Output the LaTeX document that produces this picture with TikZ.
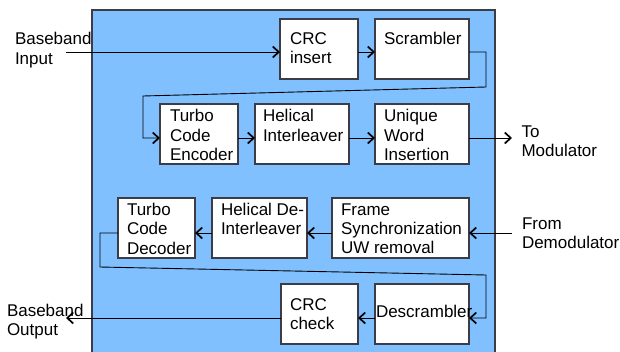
\documentclass[tikz,border=0pt]{standalone}
\usepackage{fontspec}
\setmainfont{Liberation Sans}
\usetikzlibrary{arrows.meta}
\definecolor{panelblue}{RGB}{128,192,255}
\definecolor{edgegray}{RGB}{60,60,70}
\begin{document}
\begin{tikzpicture}[x=1pt,y=-1pt,
  every node/.style={inner sep=0pt,outer sep=0pt},
  blockbox/.style={draw=edgegray,line width=1.2pt,fill=white,anchor=north west,minimum width=#1,minimum height=60pt},
  blockbox/.default=94pt,
  lbl/.style={anchor=north west,align=left,font=\fontsize{17}{19.3}\selectfont},
  flow/.style={draw=black,line width=0.9pt,-{Straight Barb[length=6pt,width=11pt,line width=1.7pt]}},
  plain/.style={draw=black,line width=0.9pt}]
\useasboundingbox (0,0) rectangle (620,351);
% panel
\path[fill=panelblue,draw=edgegray,line width=1.2pt] (92,10) -- (495,10) -- (495,360) -- (92,360) -- cycle;
% boxes
\node[blockbox=78pt] (crc) at (280,19) {};
\node[blockbox] (scr) at (375,19) {};
\node[blockbox=78pt] (enc) at (160,104) {};
\node[blockbox] (il) at (255,104) {};
\node[blockbox] (uw) at (375,104) {};
\node[blockbox=77pt] (dec) at (118,198) {};
\node[blockbox=95pt] (dil) at (212,198) {};
\node[blockbox=137pt] (fs) at (332,198) {};
\node[blockbox=77pt] (crcc) at (281,284) {};
\node[blockbox] (dscr) at (375,284) {};
% box texts
\node[lbl] (tcrc) at (290,32.6) {CRC\\insert};
\node[lbl] (tscr) at (384,32.6) {Scrambler};
\node[lbl] (tenc) at (170,109.6) {Turbo\\Code\\Encoder};
\node[lbl] (til) at (263,109.6) {Helical\\Interleaver};
\node[lbl] (tuw) at (384,109.6) {Unique\\Word\\Insertion};
\node[lbl] (tdec) at (127,203.3) {Turbo\\Code\\Decoder};
\node[lbl] (tdil) at (221,203.3) {Helical De-\\Interleaver};
\node[lbl] (tfs) at (341,203.3) {Frame\\Synchronization\\UW removal};
\node[lbl] (tcrcc) at (290,298.3) {CRC\\check};
\node[lbl] (tdscr) at (376,305.3) {Descrambler};
% outside labels
\node[lbl] (bin) at (15,32.6) {Baseband\\Input};
\node[lbl] (bout) at (7,304.3) {Baseband\\Output};
\node[lbl] (tomod) at (521.5,125.9) {To\\Modulator};
\node[lbl] (fromd) at (522,217.6) {From\\Demodulator};
% coordinates
\coordinate (inS) at (66,52);
\coordinate (r1) at (486,52);
\coordinate (r2) at (486,87);
\coordinate (r3) at (143,96);
\coordinate (r4) at (143,138);
\coordinate (outM) at (512,138);
\coordinate (inD) at (512,233);
\coordinate (d1) at (100,233);
\coordinate (d2) at (100,267);
\coordinate (d3) at (486,275);
\coordinate (d4) at (486,318);
\coordinate (outB) at (66,318);
% connectors
\draw[flow] (inS) -- (inS -| crc.west);
\draw[flow] (crc.east |- inS) -- (scr.west |- inS);
\draw[flow] (scr.east |- r1) -- (r1) -- (r2) -- (r3) -- (r4) -- (enc.west |- r4);
\draw[flow] (enc.east |- r4) -- (il.west |- r4);
\draw[flow] (il.east |- r4) -- (uw.west |- r4);
\draw[flow] (uw.east |- r4) -- (outM);
\draw[flow] (inD) -- (fs.east |- inD);
\draw[flow] (fs.west |- inD) -- (dil.east |- inD);
\draw[flow] (dil.west |- inD) -- (dec.east |- inD);
\draw[flow] (dec.west |- d1) -- (d1) -- (d2) -- (d3) -- (d4) -- (dscr.east |- d4);
\draw[flow] (dscr.west |- d4) -- (crcc.east |- d4);
\draw[flow] (crcc.west |- d4) -- (outB);
\end{tikzpicture}
\end{document}
